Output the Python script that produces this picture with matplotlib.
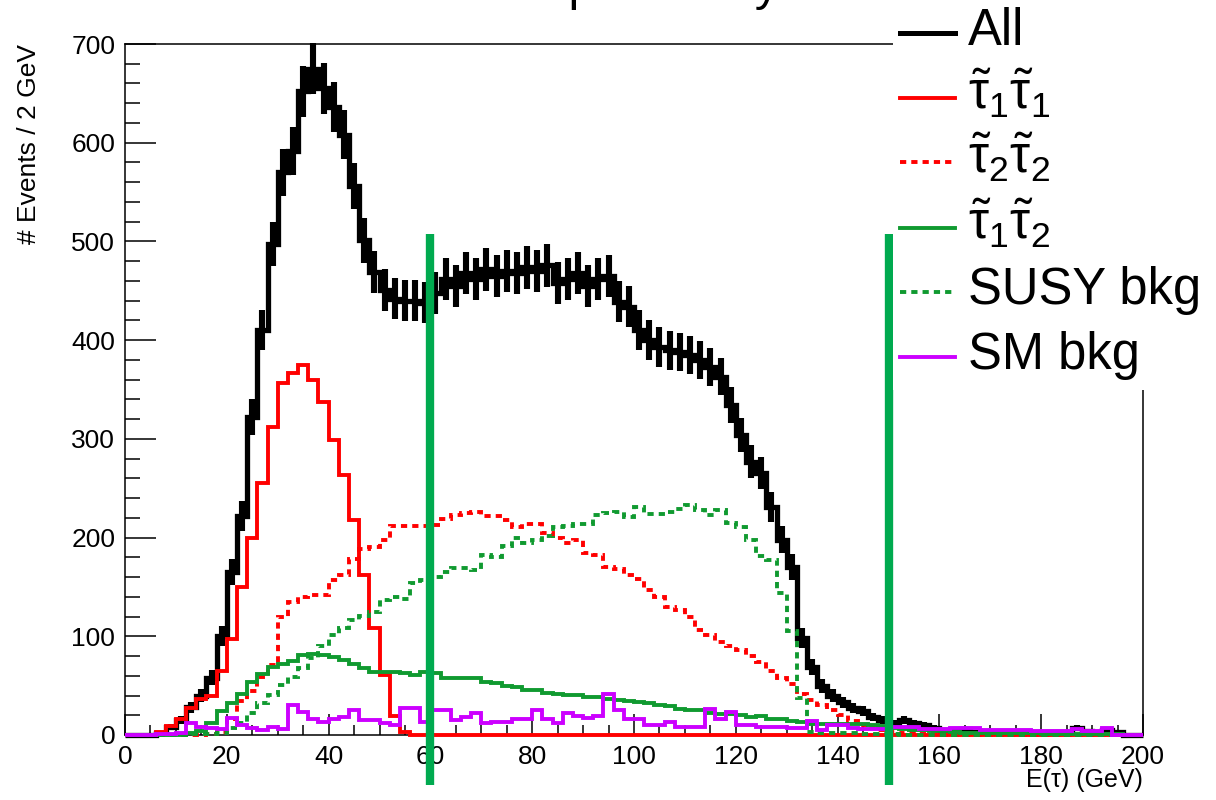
import numpy as np
import matplotlib
matplotlib.use("Agg")
import matplotlib.pyplot as plt
from matplotlib.lines import Line2D
from matplotlib.patches import Rectangle

plt.rcParams['font.family'] = ['Liberation Sans', 'DejaVu Sans']
plt.rcParams['mathtext.fontset'] = 'custom'
plt.rcParams['mathtext.rm'] = 'Liberation Sans'
plt.rcParams['mathtext.it'] = 'Liberation Sans:italic'

# 2 GeV bins from 0 to 200
edges = np.arange(0, 202, 2)

all_evts = [0, 0, 0, 2, 8, 15, 28, 40, 58, 100,
            165, 222, 322, 410, 497, 570, 592, 652, 675, 655,
            636, 608, 556, 501, 469, 451, 442, 440, 440, 438,
            448, 462, 455, 468, 462, 472, 465, 470, 468, 474,
            470, 476, 458, 462, 468, 455, 462, 465, 439, 434,
            410, 400, 393, 390, 388, 385, 380, 373, 363, 334,
            304, 277, 265, 231, 198, 170, 98, 69, 50, 40,
            33, 27, 24, 18, 15, 12, 15, 12, 10, 7,
            5, 4, 6, 3, 3, 3, 3, 3, 3, 2,
            3, 3, 3, 7, 4, 3, 5, 3, 0, 0]

stau11 = [0, 0, 0, 3, 9, 16, 27, 36, 40, 65,
          97, 150, 200, 255, 312, 357, 367, 375, 360, 337,
          299, 263, 218, 162, 108, 61, 19, 3, 0, 0] + [0] * 70

stau22 = [0, 0, 0, 0, 0, 0, 0, 0, 1, 3,
          16, 34, 45, 59, 71, 120, 135, 140, 142, 142,
          157, 162, 178, 188, 190, 198, 212, 212, 212, 212,
          213, 219, 223, 225, 226, 222, 222, 218, 211, 214,
          214, 205, 200, 195, 198, 184, 182, 170, 168, 162,
          158, 147, 140, 130, 127, 120, 106, 101, 94, 90,
          86, 80, 74, 65, 58, 52, 42, 35, 30, 25,
          20, 14, 10, 7, 5, 3, 2, 2, 1, 1] + [0] * 20

stau12 = [0, 0, 0, 0, 0, 0, 2, 4, 12, 24,
          32, 42, 54, 62, 69, 72, 75, 81, 82, 81,
          79, 76, 72, 68, 64, 64, 64, 63, 61, 64,
          63, 58, 58, 58, 58, 54, 53, 50, 49, 46,
          46, 43, 42, 41, 41, 39, 39, 36, 35, 34,
          33, 32, 30, 29, 26, 25, 25, 22, 21, 21,
          20, 18, 19, 16, 16, 14, 13, 11, 11, 11,
          11, 11, 11, 10, 9, 7, 6, 5, 5, 4,
          4, 3, 2, 2, 2, 2, 2, 2, 2, 2,
          1, 1, 1, 1, 1, 1, 1, 1, 0, 0]

susy_bkg = [0, 0, 0, 0, 0, 0, 1, 1, 1, 2,
            7, 12, 22, 32, 41, 51, 59, 68, 78, 90,
            101, 108, 117, 121, 125, 137, 140, 138, 154, 157,
            160, 165, 169, 169, 167, 182, 180, 191, 200, 195,
            198, 202, 211, 212, 214, 214, 223, 225, 226, 221,
            231, 224, 224, 226, 229, 233, 228, 223, 228, 215,
            211, 198, 181, 177, 144, 105, 37, 3, 2, 2,
            2, 2, 1, 1, 1, 1, 0, 0, 0, 0] + [0] * 20

sm_bkg = [0, 0, 0, 1, 1, 2, 12, 8, 7, 6,
          17, 10, 7, 5, 8, 6, 30, 23, 16, 13,
          16, 18, 25, 15, 15, 12, 10, 27, 27, 13,
          25, 25, 15, 18, 22, 12, 13, 13, 16, 16,
          25, 16, 12, 22, 19, 17, 19, 42, 25, 16,
          16, 10, 10, 13, 8, 8, 8, 26, 16, 23,
          10, 10, 8, 8, 8, 7, 7, 14, 5, 10,
          10, 7, 6, 6, 6, 8, 8, 8, 6, 6,
          6, 7, 7, 7, 5, 5, 5, 5, 5, 4,
          4, 4, 4, 6, 4, 4, 7, 0, 0, 0]

cut_positions = [60, 150]

labels = ['All', r'$\mathrm{\tilde{\tau}}_1\mathrm{\tilde{\tau}}_1$',
          r'$\mathrm{\tilde{\tau}}_2\mathrm{\tilde{\tau}}_2$',
          r'$\mathrm{\tilde{\tau}}_1\mathrm{\tilde{\tau}}_2$',
          'SUSY bkg', 'SM bkg']

W, H = 1216, 800
fig = plt.figure(figsize=(W / 100, H / 100), dpi=100)
ax = fig.add_axes([125 / W, 65 / H, 1018 / W, 691 / H])

dots = (0, (1.6, 1.3))
series = [
    (stau11, 'red', '-'),
    (stau22, 'red', dots),
    (stau12, '#109a30', '-'),
    (susy_bkg, '#109a30', dots),
    (sm_bkg, '#cc00ff', '-'),
]

# black total with poisson error bars
all_arr = np.array(all_evts, dtype=float)
ax.stairs(all_arr, edges, color='black', lw=3.8, clip_on=False, zorder=2)
centers = (edges[:-1] + edges[1:]) / 2
ax.errorbar(centers, all_arr, yerr=np.sqrt(all_arr), fmt='none', ecolor='black',
            elinewidth=4.4, capsize=0, clip_on=False, zorder=2)

for vals, col, ls in series:
    ax.stairs(vals, edges, color=col, lw=2.8, linestyle=ls, clip_on=False, zorder=3)

ax.vlines(cut_positions, -51, 508, colors='#00aa4f', lw=6, clip_on=False, zorder=10)

ax.set_xlim(0, 200)
ax.set_ylim(0, 700)
ax.set_xticks(np.arange(0, 201, 20))
ax.set_xticks(np.arange(0, 201, 5), minor=True)
ax.set_yticks(np.arange(0, 701, 100))
ax.set_yticks(np.arange(0, 701, 20), minor=True)
ax.tick_params(axis='both', which='both', direction='in', top=False, right=False,
               width=1.1, labelsize=19, pad=7)
ax.tick_params(axis='x', which='major', length=15)
ax.tick_params(axis='x', which='minor', length=7.5)
ax.tick_params(axis='y', which='major', length=22)
ax.tick_params(axis='y', which='minor', length=11)
for s in ax.spines.values():
    s.set_linewidth(1.1)

ax.set_xlabel('E(τ) (GeV)', fontsize=18, loc='right')
ax.xaxis.set_label_coords(1.0, -0.048)
ax.set_ylabel('# Events / 2 GeV', fontsize=19, loc='top')
ax.yaxis.set_label_coords(-0.083, 1.0)

# title mostly outside the canvas, only its lower edge shows
fig.text(617 / W, 1.0, 'Stau pair study', fontsize=35, ha='center', va='baseline')

# legend box (white) drawn over the frame corner
fig.add_artist(Rectangle((893 / W, 1 - 390 / H), 1 - 893 / W, 390 / H,
                         transform=fig.transFigure, facecolor='white',
                         edgecolor='none', zorder=1))
leg_styles = [('black', '-', 3.6)] + [(c, l, 2.8) for _, c, l in series]
row_y = [33, 98, 162, 228, 292, 357]
for lab, (col, ls, lw), yc in zip(labels, leg_styles, row_y):
    fig.add_artist(Line2D([900 / W, 955 / W], [1 - yc / H] * 2, color=col, lw=lw,
                          linestyle=ls, transform=fig.transFigure, zorder=2))
    fig.text(968 / W, 1 - (yc + 12) / H, lab, fontsize=36.5, va='baseline', zorder=2)

fig.savefig('out.png', dpi=100)
